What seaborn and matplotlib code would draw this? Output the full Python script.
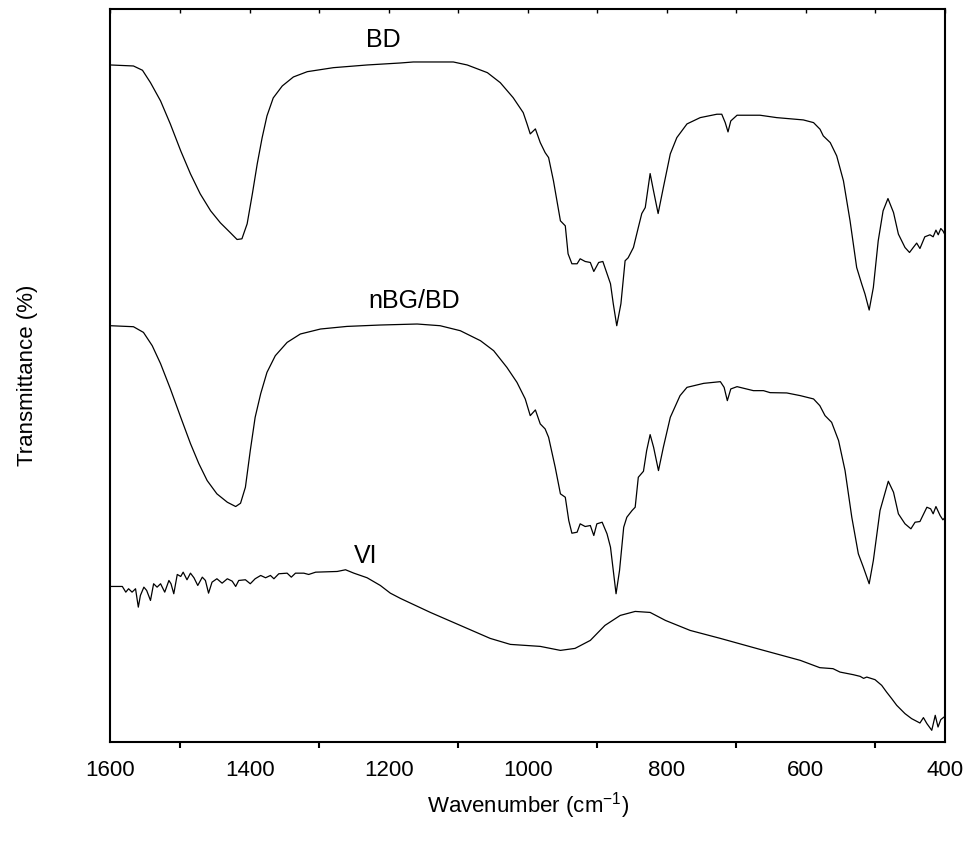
import numpy as np
import pandas as pd
import matplotlib
matplotlib.use("Agg")
import matplotlib.pyplot as plt
import seaborn as sns

# ---- data (wavenumber cm^-1, transmittance a.u.) ----
bd_wn = [1600, 1567, 1554, 1542.5, 1528, 1514, 1499, 1485, 1471, 1456, 1442, 1427.5, 1418, 1411,
         1403.5, 1396, 1389, 1382, 1375, 1366, 1353, 1337, 1317, 1279.5, 1231, 1183, 1164.6, 1107,
         1087, 1058, 1039.5, 1021, 1006.5, 1001, 996.4, 989, 982, 975, 970, 963, 953, 946, 942,
         936.5, 929, 924.6, 917.4, 910, 905, 898, 892, 881, 877, 872, 866, 860, 855.6, 848, 841,
         836, 831, 824, 819.7, 812.5, 805, 795, 785.6, 771, 752, 728, 721, 716, 712, 708, 699, 666,
         642, 603.7, 589, 579.7, 575, 565, 555.7, 546, 536.5, 527, 519.7, 515, 509, 503, 496, 489,
         482, 474, 467, 457.5, 451, 445.6, 440.7, 436, 429, 421.6, 417, 413, 409.7, 406, 403, 400]
bd_t = [678, 677, 672.7, 660.3, 642, 619, 592, 569, 549, 532, 520, 510, 503.3, 504,
        519, 549, 579, 605, 627, 645, 657, 666, 671.3, 675.3, 678, 680, 681, 681,
        678, 670.3, 660.3, 645.3, 630.3, 619, 609, 614, 600.3, 590.3, 585.3, 562, 522, 517, 489,
        479, 479, 484, 481.3, 480.3, 471.3, 480.3, 481.3, 459, 439, 417, 439, 482, 485, 495.3, 515.3,
        529.3, 535.3, 569.3, 554, 529.3, 555.3, 589, 605.3, 619, 625.3, 628.7, 628.7, 620.3, 611, 622, 627.7, 627.7,
        625.3, 623, 620.3, 613.7, 607, 600.3, 587, 562, 522, 475.3, 458.7, 448.7, 432.7, 455.3, 502, 532,
        544.3, 530.3, 508.7, 495.3, 490.3, 495.3, 499.7, 494.3, 506, 508, 506, 512.7, 508, 514.3, 512, 508]

nbg_wn = [1600, 1567, 1552.6, 1540, 1528, 1514, 1499, 1485, 1473, 1461, 1447, 1432, 1420, 1413,
          1406, 1399, 1392, 1384, 1375, 1363, 1346, 1327, 1298, 1260, 1212, 1159, 1126, 1097, 1068,
          1049, 1030, 1015.5, 1003.6, 996.4, 989, 982, 975, 970, 960.5, 953, 946, 941, 936.5, 929,
          924.6, 917.4, 910, 905, 900.6, 893, 886, 881, 877, 873, 868, 862, 857.5, 850, 845.5, 841,
          833.6, 829, 824, 819, 812, 805, 795, 781, 771, 747, 723, 717.6, 713, 708, 699, 675.5, 661,
          651.5, 627.5, 608, 589, 580, 572.5, 563, 553, 543.7, 534, 524.6, 517.4, 509, 503, 493.4,
          481.5, 474, 467, 457.5, 449, 443, 436, 426, 420.6, 417, 413, 407, 403, 400]
nbg_t = [417, 416, 410.3, 397, 379, 354, 325.3, 299, 279, 262, 248.7, 240.3, 236, 239.3,
         255.3, 292, 325.3, 349, 370.3, 387, 400.3, 408.7, 413.7, 416.3, 417.7, 418.7, 417, 412, 402,
         392, 375.3, 360.3, 343.7, 327, 332.7, 318.7, 313.7, 305.3, 275.3, 248.7, 245.3, 222, 209.3, 210.3,
         218.7, 216, 217, 207, 218.7, 220.3, 208.7, 195.3, 172, 148.7, 172, 215.3, 225.3, 232, 235.3, 265.3,
         271.3, 292, 308, 295.3, 272, 295.3, 325.3, 347, 355.3, 359.3, 361, 355.3, 342, 353.7, 356, 352, 352,
         350, 349.7, 347, 343.7, 337, 327, 320.3, 302, 272, 225.3, 188.7, 175.3, 158.7, 182, 232,
         261.3, 250.3, 228.7, 218.7, 213.7, 220.3, 221, 235.3, 233.7, 228.7, 236, 227, 222.7, 225]

vi_wn = [1600, 1583, 1578, 1574, 1569, 1564, 1560, 1557, 1552, 1548, 1542.5, 1538, 1533, 1528,
         1522, 1516, 1513, 1509, 1504, 1499, 1495.5, 1490, 1485, 1480, 1474.5, 1468, 1463.5, 1459,
         1454, 1447, 1439.5, 1432, 1425, 1420, 1415.6, 1406, 1399, 1392, 1384, 1377, 1370, 1365,
         1358, 1346, 1340, 1334, 1322, 1315, 1305, 1274, 1262, 1250, 1231, 1212, 1197.6, 1183, 1140,
         1097, 1054, 1025, 982, 953, 932, 910, 889, 867, 845.5, 824, 802, 766.5, 723, 666, 608, 580,
         561, 551, 532, 522, 517, 512.5, 500.6, 491, 484, 476.6, 469.4, 457.5, 448, 436, 431, 426,
         419, 414, 410, 406, 401.4]
vi_t = [156, 156, 150.3, 153.7, 150.3, 153.7, 135.3, 147, 155.3, 152, 142, 158.7, 155.3, 158.7,
        150.3, 162, 158.7, 148.7, 168, 166, 170.3, 162.7, 169.3, 164.7, 157, 165.3, 162, 149.3,
        160.3, 163.7, 159.3, 163.7, 161.3, 156, 162, 162.7, 158.7, 163.7, 167, 164.7, 167, 163.7,
        168.7, 169.3, 165.3, 169.3, 169.3, 168, 170.3, 171, 172.7, 169.3, 164.7, 157, 149.3, 144, 130,
        117, 104, 98, 96, 92, 94, 102, 117, 127, 131, 130, 122, 112, 104, 93, 82, 74.7,
        73.7, 70.3, 67.7, 66, 64, 65.3, 62.7, 57, 50.3, 43.7, 37, 28.7, 23.7, 19.3, 24.7, 18.7,
        12, 27, 15.3, 22.7, 25.3]

labels = ["BD", "nBG/BD", "VI"]
label_wn = [1208, 1163, 1233]
label_t = [703, 442, 186]

# ---- plot ----
sns.set_theme(style="white")
plt.rcParams['font.family'] = ['Liberation Sans', 'DejaVu Sans']
plt.rcParams['text.color'] = 'black'
plt.rcParams['axes.labelcolor'] = 'black'
plt.rcParams['mathtext.default'] = 'regular'

fig = plt.figure(figsize=(9.71, 8.44), dpi=100)
ax = fig.add_axes([0.1138, 0.1205, 0.8594, 0.8688])

for wn, t in [(bd_wn, bd_t), (nbg_wn, nbg_t), (vi_wn, vi_t)]:
    df = pd.DataFrame({"wn": wn, "t": t})
    sns.lineplot(data=df, x="wn", y="t", ax=ax, color="black", linewidth=0.9,
                 estimator=None, sort=False)

for lab, x, y in zip(labels, label_wn, label_t):
    ax.text(x, y, lab, fontsize=18, ha="center", va="center", color="black")

ax.set_xlim(1600, 400)
ax.set_ylim(0, 734)
ax.set_xticks([1600, 1400, 1200, 1000, 800, 600, 400])
ax.set_xticks([1500, 1300, 1100, 900, 700, 500], minor=True)
ax.set_yticks([])
ax.tick_params(axis="x", which="major", direction="out", length=7, width=1.5,
               labelsize=16, pad=6, color="black", labelcolor="black")
ax.tick_params(axis="x", which="minor", direction="out", length=4, width=1.5,
               bottom=True, color="black")
for s in ax.spines.values():
    s.set_linewidth(1.5)
    s.set_color("black")

# inward ticks along the top edge
top = ax.secondary_xaxis("top")
top.set_xticks([1600, 1400, 1200, 1000, 800, 600, 400])
top.set_xticks([1500, 1300, 1100, 900, 700, 500], minor=True)
top.tick_params(axis="x", which="both", direction="in", length=3, width=1.0,
                labeltop=False, color="black")
top.spines["top"].set_visible(False)

ax.set_xlabel("Wavenumber (cm$^{-1}$)", fontsize=16, labelpad=6)
ax.set_ylabel("Transmittance (%)", fontsize=16, labelpad=52)

fig.savefig("out.png", dpi=100)
